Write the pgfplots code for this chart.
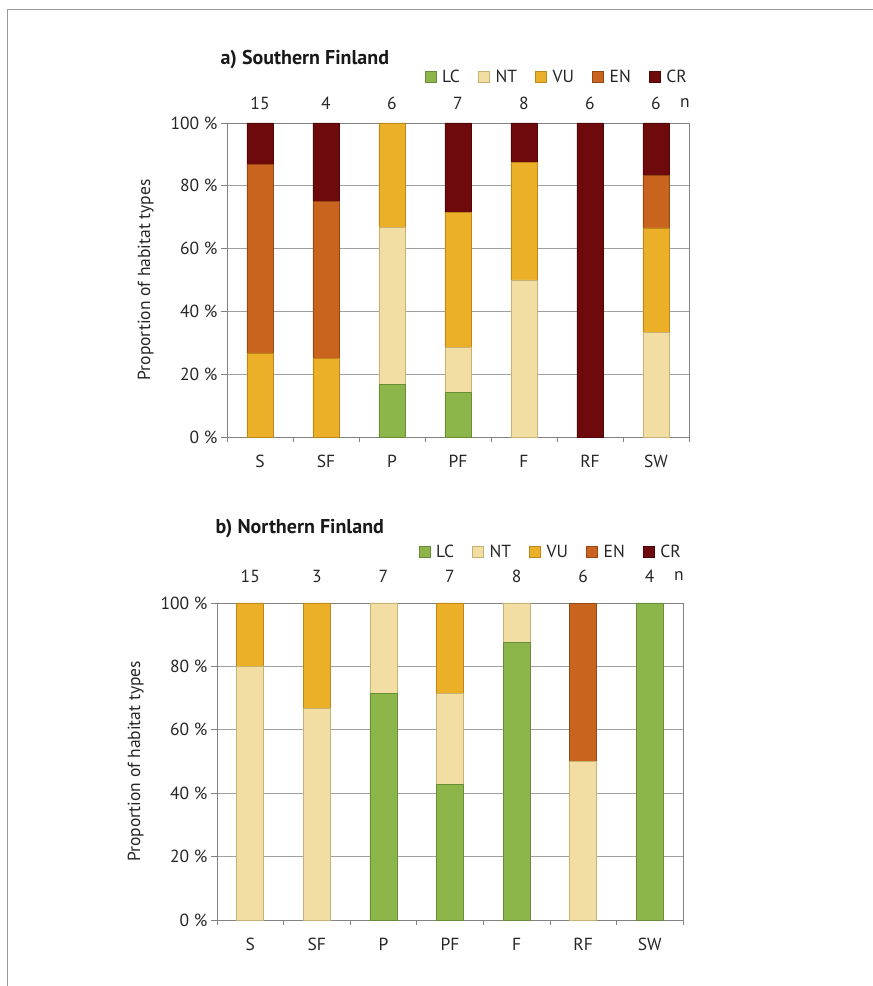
\documentclass[border=0pt]{standalone}
\usepackage{fontspec}
\setmainfont{PT Sans}
\usepackage{pgfplots}
\pgfplotsset{compat=1.18}
\definecolor{cLC}{RGB}{141,182,74}
\definecolor{dLC}{RGB}{105,140,55}
\definecolor{cNT}{RGB}{242,222,162}
\definecolor{dNT}{RGB}{200,178,115}
\definecolor{cVU}{RGB}{235,176,40}
\definecolor{dVU}{RGB}{190,135,25}
\definecolor{cEN}{RGB}{200,100,30}
\definecolor{dEN}{RGB}{150,72,20}
\definecolor{cCR}{RGB}{110,10,12}
\definecolor{dCR}{RGB}{80,5,8}
\definecolor{axgray}{RGB}{130,130,130}
\definecolor{gridgray}{RGB}{160,160,160}
\newcommand{\fs}{\fontsize{17.5}{20}\selectfont}
\pgfplotsset{
  habitat/.style={
    scale only axis,
    clip=false,
    ybar stacked,
    ymin=0, ymax=100,
    xmin=-0.5, xmax=6.5,
    xtick={0,...,6},
    xticklabels={S,SF,P,PF,F,RF,SW},
    minor xtick={-0.5,0.5,...,6.5},
    ytick={0,20,40,60,80,100},
    yticklabels={0 \%,20 \%,40 \%,60 \%,80 \%,100 \%},
    ymajorgrids,
    grid style={gridgray, line width=0.8pt},
    axis line style={axgray, line width=0.8pt},
    tick style={axgray, line width=0.6pt},
    major tick length=6pt, minor tick length=5pt,
    tick align=outside,
    xtick style={draw=none},
    minor x tick style={draw=axgray},
    xtick pos=bottom, ytick pos=left,
    tick label style={font=\fs, text=black!85},
    xticklabel style={yshift=-9pt},
    ylabel={Proportion of habitat types},
    ylabel style={font=\fs, text=black!85, yshift=10pt},
    legend columns=5,
    legend style={draw=none, fill=none, font=\fs, text=black!85,
      at={(1,1)}, anchor=south east, yshift=37pt, inner sep=0pt,
      /tikz/every odd column/.append style={column sep=4pt},
      /tikz/every even column/.append style={column sep=16pt}},
    legend cell align=left,
    legend image code/.code={\fill[##1] (0pt,-5.5pt) rectangle (11pt,5.5pt);},
  },
  sLC/.style={fill=cLC, draw=dLC, line width=0.6pt},
  sNT/.style={fill=cNT, draw=dNT, line width=0.6pt},
  sVU/.style={fill=cVU, draw=dVU, line width=0.6pt},
  sEN/.style={fill=cEN, draw=dEN, line width=0.6pt},
  sCR/.style={fill=cCR, draw=dCR, line width=0.6pt},
}
\begin{document}
\begin{tikzpicture}
\useasboundingbox (0pt,0pt) rectangle (873pt,986pt);
\draw[gray!80, line width=1pt] (7pt,0pt) -- (7pt,976pt) -- (873pt,976pt);
% ---------------- a) Southern Finland
\node[anchor=west, font=\fontsize{20}{23}\selectfont\bfseries, text=black!90] at (217pt,926pt) {a) Southern Finland};
\begin{axis}[habitat, at={(227pt,549pt)}, anchor=south west,
  width=462pt, height=314pt, bar width=26pt]
\addplot[sLC] coordinates {(0,0) (1,0) (2,16.7) (3,14.3) (4,0) (5,0) (6,0)};
\addplot[sNT] coordinates {(0,0) (1,0) (2,50) (3,14.3) (4,50) (5,0) (6,33.3)};
\addplot[sVU] coordinates {(0,26.7) (1,25) (2,33.3) (3,42.8) (4,37.5) (5,0) (6,33.3)};
\addplot[sEN] coordinates {(0,60) (1,50) (2,0) (3,0) (4,0) (5,0) (6,16.7)};
\addplot[sCR] coordinates {(0,13.3) (1,25) (2,0) (3,28.6) (4,12.5) (5,100) (6,16.7)};
\legend{LC,NT,VU,EN,CR}
\foreach \i/\n in {0/15,1/4,2/6,3/7,4/8,5/6,6/6}{
  \edef\tmp{\noexpand\node[font=\noexpand\fs, text=black!85] at (axis cs:\i,100) [yshift=20pt] {\n};}\tmp
}
\node[font=\fs, text=black!85] at (rel axis cs:1,1) [xshift=-4pt, yshift=20pt] {n};
\end{axis}
% ---------------- b) Northern Finland
\node[anchor=west, font=\fontsize{20}{23}\selectfont\bfseries, text=black!90] at (212pt,457pt) {b) Northern Finland};
\begin{axis}[habitat, at={(217pt,66pt)}, anchor=south west,
  width=466pt, height=317pt, bar width=27pt, legend style={yshift=5pt}]
\addplot[sLC] coordinates {(0,0) (1,0) (2,71.4) (3,42.9) (4,87.5) (5,0) (6,100)};
\addplot[sNT] coordinates {(0,80) (1,66.7) (2,28.6) (3,28.6) (4,12.5) (5,50) (6,0)};
\addplot[sVU] coordinates {(0,20) (1,33.3) (2,0) (3,28.5) (4,0) (5,0) (6,0)};
\addplot[sEN] coordinates {(0,0) (1,0) (2,0) (3,0) (4,0) (5,50) (6,0)};
\addplot[sCR] coordinates {(0,0) (1,0) (2,0) (3,0) (4,0) (5,0) (6,0)};
\legend{LC,NT,VU,EN,CR}
\foreach \i/\n in {0/15,1/3,2/7,3/7,4/8,5/6,6/4}{
  \edef\tmp{\noexpand\node[font=\noexpand\fs, text=black!85] at (axis cs:\i,100) [yshift=27pt] {\n};}\tmp
}
\node[font=\fs, text=black!85] at (rel axis cs:1,1) [xshift=-4pt, yshift=27pt] {n};
\end{axis}
\end{tikzpicture}
\end{document}
